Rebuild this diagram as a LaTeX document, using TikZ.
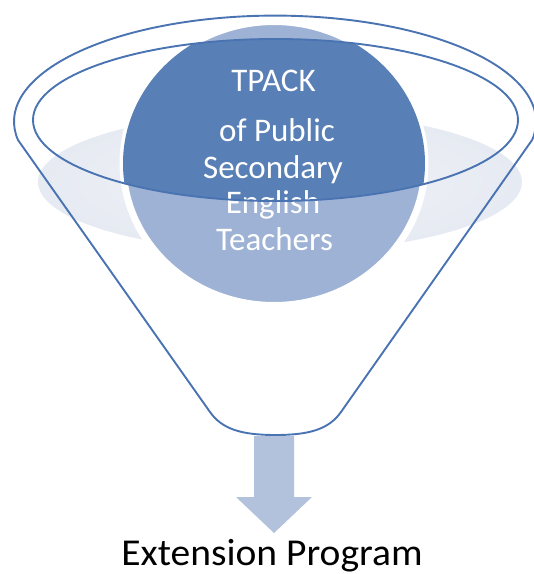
\documentclass[tikz,border=0pt]{standalone}
\usepackage{fontspec}
\setmainfont{Carlito}
\definecolor{rimblue}{HTML}{4A73B2}
\definecolor{darkfill}{HTML}{5880B6}
\definecolor{lightfill}{HTML}{9DB2D4}
\definecolor{haze}{HTML}{E6EAF2}
\definecolor{hazein}{HTML}{F2F3F8}
\definecolor{arrowfill}{HTML}{B3C2DC}
\tikzset{
  rim/.style={draw=rimblue, line width=1.9pt},
  ctext/.style={text=white, font=\fontsize{33}{36}\selectfont, inner sep=0pt, anchor=base},
}
\begin{document}
\begin{tikzpicture}[x=1pt,y=-1pt]
\useasboundingbox (0,0) rectangle (534,574);
% haze ellipse
\shade[inner color=hazein, outer color=haze] (280,182) ellipse [x radius=242, y radius=70];
% circle with white halo
\fill[lightfill, draw=white, line width=7pt] (274,163.5) ellipse [x radius=151, y radius=142];
\begin{scope}
  \clip (275.5,120) ellipse [x radius=242.5, y radius=81];
  \fill[darkfill] (274,163.5) ellipse [x radius=151, y radius=142];
\end{scope}
% text
\node[ctext] (t1) at (273.5,91) {TPACK};
\node[ctext] (t2) at (277,141) {of Public};
\node[ctext] (t3) at (273,178) {Secondary};
\node[ctext] (t4) at (273,213) {English};
\node[ctext] (t5) at (274.5,250) {Teachers};
% funnel outline
\draw[rim, line join=round] (18,140) arc[start angle=170, end angle=370, x radius=261, y radius=106]
  -- (341,412) .. controls (329,429) and (310,435) .. (275.5,435)
  .. controls (241,435) and (222,429) .. (210,412) -- cycle;
\draw[rim] (275.5,120) ellipse [x radius=242.5, y radius=81];
% arrow
\fill[arrowfill] (254,436) -- (294,436) -- (294,497) -- (312,497) -- (274,533) -- (236,497) -- (254,497) -- cycle;
\node[font=\fontsize{38}{40}\selectfont, inner sep=0pt, anchor=base, xscale=1.04] (ext) at (272,565.5) {Extension Program};
\end{tikzpicture}
\end{document}
